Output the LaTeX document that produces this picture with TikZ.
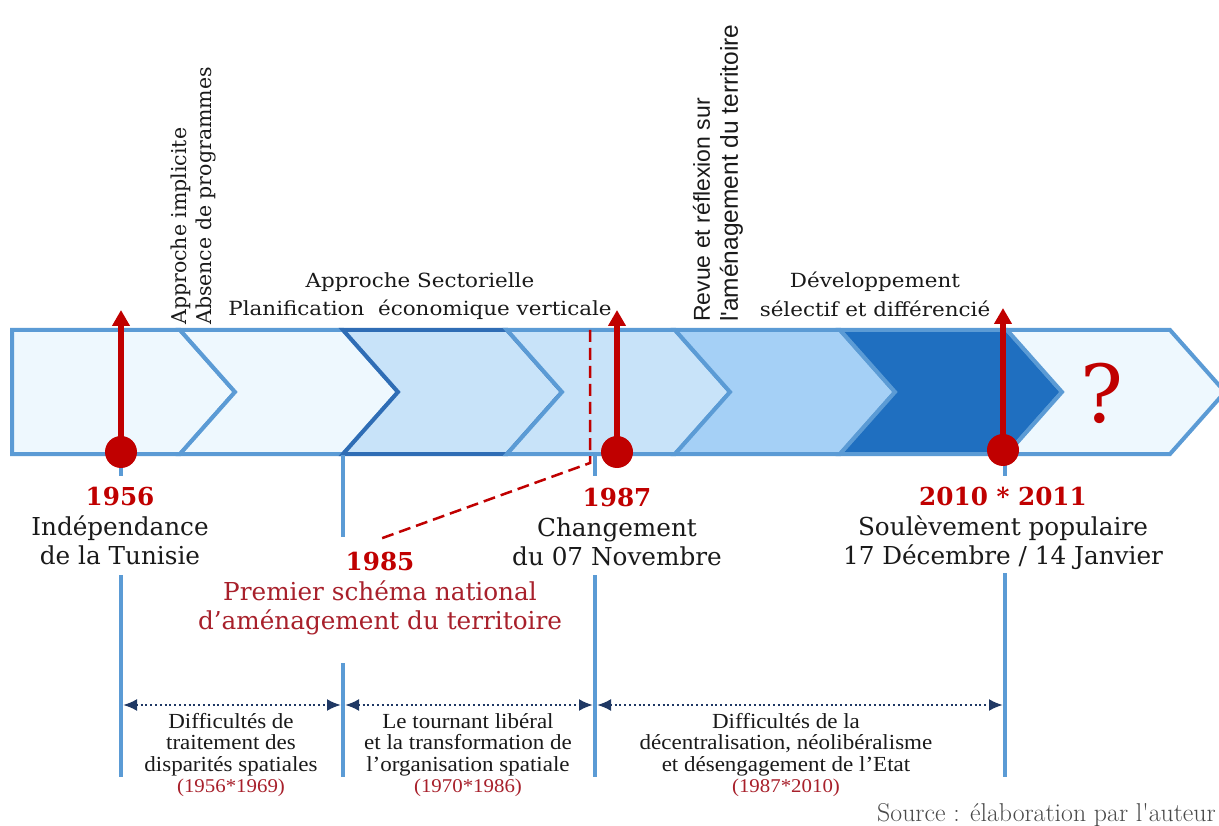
\documentclass[tikz,border=0pt]{standalone}
\usepackage{fontspec}
\usetikzlibrary{arrows.meta}
\newfontfamily\lblfont{DejaVu Serif}
\newfontfamily\topfont[FakeStretch=1.1]{DejaVu Serif}
\newfontfamily\rotsans{Liberation Sans}
\newfontfamily\botfont[FakeStretch=1.07]{Liberation Serif}
\definecolor{bandblue}{HTML}{5B9BD5}
\definecolor{darkband}{HTML}{2F6DB5}
\definecolor{palefill}{HTML}{EEF8FE}
\definecolor{lightfill}{HTML}{C8E3F9}
\definecolor{midfill}{HTML}{A5D0F6}
\definecolor{deepfill}{HTML}{1F6FC0}
\definecolor{mainred}{HTML}{C00000}
\definecolor{darkred}{HTML}{A8202B}
\definecolor{navy}{HTML}{1F3864}
\definecolor{txt}{HTML}{1A1A1A}
\definecolor{srcgray}{HTML}{4A4A4A}
\newcommand\yrs[1]{{\color{darkred}\fontsize{19.5}{21.5}\selectfont #1}}
\begin{document}
\begin{tikzpicture}[x=1pt,y=-1pt,
  chev/.style={draw=bandblue, line width=4pt, line join=miter, miter limit=10},
  vline/.style={draw=bandblue, line width=4pt},
  redarrow/.style={draw=mainred, line width=5.5pt, -{Triangle[width=17pt,length=16pt]}},
  reddot/.style={circle, fill=mainred, minimum size=32pt, inner sep=0pt},
  reddash/.style={draw=mainred, line width=2.5pt, dash pattern=on 12pt off 6pt},
  spanarrow/.style={draw=navy, line width=2.4pt, dash pattern=on 2pt off 2.8pt,
    {Latex[length=14pt,width=12pt]}-{Latex[length=14pt,width=12pt]}, shorten <=2pt, shorten >=2pt},
  yearlbl/.style={font=\lblfont\fontsize{24.7}{29.5}\selectfont, text=txt, align=center, inner sep=0pt, anchor=north},
  toplbl/.style={font=\topfont\fontsize{19.5}{28.5}\selectfont, text=txt, align=center, inner sep=0pt, anchor=north},
  botlbl/.style={font=\botfont\fontsize{21.5}{21.5}\selectfont, text=txt, align=center, inner sep=0pt, anchor=north},
  rotlbl/.style={rotate=90, anchor=west, align=left, inner sep=0pt, text=txt}
]
\useasboundingbox (0,0) rectangle (1219,826);
\fill[white] (0,0) rectangle (1219,826);

% chevron band
\draw[chev, fill=palefill] (12,330) -- (180,330) -- (235,392) -- (180,454) -- (12,454) -- cycle;
\draw[chev, fill=palefill] (180,330) -- (343,330) -- (398,392) -- (343,454) -- (180,454) -- (235,392) -- cycle;
\draw[chev, draw=darkband, fill=lightfill] (343,330) -- (507,330) -- (562,392) -- (507,454) -- (343,454) -- (398,392) -- cycle;
\draw[chev, fill=lightfill] (507,330) -- (675,330) -- (730,392) -- (675,454) -- (507,454) -- (562,392) -- cycle;
\draw[chev, fill=midfill] (675,330) -- (840,330) -- (895,392) -- (840,454) -- (675,454) -- (730,392) -- cycle;
\draw[chev, fill=deepfill] (840,330) -- (1007,330) -- (1062,392) -- (1007,454) -- (840,454) -- (895,392) -- cycle;
\draw[chev, fill=palefill] (1007,330) -- (1170,330) -- (1225,392) -- (1170,454) -- (1007,454) -- (1062,392) -- cycle;

% vertical guide lines
\draw[vline] (121,455) -- (121,476);
\draw[vline] (121,575) -- (121,777);
\draw[vline] (343,455) -- (343,537);
\draw[vline] (343,663) -- (343,777);
\draw[vline] (595,455) -- (595,476);
\draw[vline] (595,575) -- (595,777);
\draw[vline] (1005,455) -- (1005,476);
\draw[vline] (1005,573) -- (1005,777);

% top labels
\node[toplbl] (sect) at (420,272) {Approche Sectorielle\\Planification\ \ économique verticale};
\node[toplbl] (dev) at (875,272) {Développement\\sélectif et différencié};
\node[rotlbl, font=\lblfont\fontsize{20.5}{25}\selectfont] (impl) at (193,325) {Approche implicite\\Absence de programmes};
\node[rotlbl, font=\rotsans\fontsize{23}{28}\selectfont] (revue) at (718,322) {Revue et réflexion sur\\{\fontsize{24.5}{28}\selectfont l'aménagement du territoire}};

% question mark
\node[font=\lblfont\fontsize{80}{80}\selectfont, text=mainred, inner sep=0pt] (q) at (1102,393) {?};

% date labels
\node[yearlbl] (l1956) at (120,487) {{\bfseries\color{mainred}1956}\\Indépendance\\de la Tunisie};
\node[yearlbl, text=darkred] (l1985) at (380,552) {{\bfseries\color{mainred}1985}\\Premier schéma national\\d’aménagement du territoire};
\node[yearlbl] (l1987) at (617,488) {{\bfseries\color{mainred}1987}\\Changement\\du 07 Novembre};
\node[yearlbl] (l2010) at (1003,487) {{\bfseries\color{mainred}2010 * 2011}\\Soulèvement populaire\\17 Décembre / 14 Janvier};

% period spans
\coordinate (s1) at (121,705);
\coordinate (s2) at (343,705);
\coordinate (s3) at (595,705);
\coordinate (s4) at (1005,705);
\draw[spanarrow] (s1) -- (s2);
\draw[spanarrow] (s2) -- (s3);
\draw[spanarrow] (s3) -- (s4);

\node[botlbl] (b1) at (231,713) {Difficultés de\\traitement des\\disparités spatiales\\\yrs{(1956*1969)}};
\node[botlbl] (b2) at (468,713) {Le tournant libéral\\et la transformation de\\l’organisation spatiale\\\yrs{(1970*1986)}};
\node[botlbl] (b3) at (786,713) {Difficultés de la\\décentralisation, néolibéralisme\\et désengagement de l’Etat\\\yrs{(1987*2010)}};

\node[anchor=base east, font=\fontsize{25.8}{28}\selectfont, text=srcgray, inner sep=0pt] (src) at (1216,821) {Source : élaboration par l\textquotesingle auteur};

% 1985 dashed marker
\coordinate (k1) at (590,330);
\coordinate (k2) at (590,463);
\coordinate (k3) at (377,540);
\draw[reddash] (k1) -- (k2) -- (k3);

% red event arrows
\node[reddot] (c1956) at (121,452) {};
\node[reddot] (c1987) at (617,452) {};
\node[reddot] (c2010) at (1003,450) {};
\coordinate (t1956) at (121,310);
\coordinate (t1987) at (617,310);
\coordinate (t2010) at (1003,308);
\draw[redarrow] (c1956.center) -- (t1956);
\draw[redarrow] (c1987.center) -- (t1987);
\draw[redarrow] (c2010.center) -- (t2010);
\end{tikzpicture}
\end{document}
